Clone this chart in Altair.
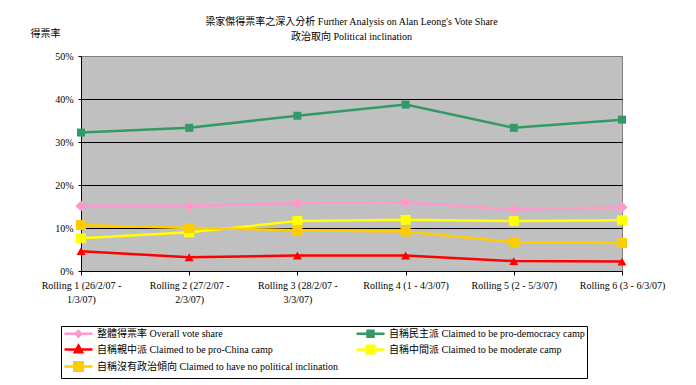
import altair as alt
import pandas as pd

FONT = "'Liberation Serif', 'Noto Sans CJK TC', serif"

rolls = [
    "Rolling 1 (26/2/07 - 1/3/07)",
    "Rolling 2 (27/2/07 - 2/3/07)",
    "Rolling 3 (28/2/07 - 3/3/07)",
    "Rolling 4 (1 - 4/3/07)",
    "Rolling 5 (2 - 5/3/07)",
    "Rolling 6 (3 - 6/3/07)",
]

series = [
    "整體得票率 Overall vote share",
    "自稱民主派 Claimed to be pro-democracy camp",
    "自稱親中派 Claimed to be pro-China camp",
    "自稱中間派 Claimed to be moderate camp",
    "自稱沒有政治傾向 Claimed to have no political inclination",
]

overall = [15.1, 15.1, 15.8, 16.0, 14.3, 14.8]
pro_democracy = [32.2, 33.3, 36.1, 38.7, 33.3, 35.2]
pro_china = [4.6, 3.2, 3.6, 3.6, 2.3, 2.2]
moderate = [7.6, 9.0, 11.6, 11.9, 11.6, 11.8]
no_inclination = [10.7, 10.0, 9.5, 9.2, 6.7, 6.5]

values = [overall, pro_democracy, pro_china, moderate, no_inclination]

colors = ["#FF99CC", "#339966", "#FF0000", "#FFFF00", "#FFCC00"]
shapes = ["diamond", "square", "triangle-up", "square", "square"]
sizes = [121, 64, 81, 100, 100]

# legend symbols: a short line with the marker in the middle
legend_paths = [
    "M-3.5,0H3.5M0,-0.7L0.7,0L0,0.7L-0.7,0Z",
    "M-3.5,0H3.5M-0.75,-0.75H0.75V0.75H-0.75Z",
    "M-3.5,0H3.5M0,-0.95L0.9,0.7L-0.9,0.7Z",
    "M-3.5,0H3.5M-0.95,-0.95H0.95V0.95H-0.95Z",
    "M-3.5,0H3.5M-1.05,-1.05H1.05V1.05H-1.05Z",
]

rows = []
for name, vals in zip(series, values):
    for r, v in zip(rolls, vals):
        rows.append({"series": name, "roll": r, "value": v})
df = pd.DataFrame(rows)

legend = alt.Legend(
    title=None,
    orient="none",
    legendX=-20,
    legendY=270,
    direction="horizontal",
    columns=2,
    columnPadding=12,
    rowPadding=-2,
    padding=2,
    strokeColor="black",
    fillColor="white",
    symbolSize=64,
    symbolOffset=10,
    labelOffset=13,
    labelFont=FONT,
    labelFontSize=10,
    labelColor="black",
    labelLimit=600,
    symbolStrokeWidth=2.5,
)

color = alt.Color("series:N", scale=alt.Scale(domain=series, range=colors), sort=series, legend=legend)

x = alt.X(
    "roll:N",
    sort=rolls,
    scale=alt.Scale(type="point", padding=0),
    axis=alt.Axis(
        title=None,
        labelAngle=0,
        labelFont=FONT,
        labelFontSize=10,
        labelColor="black",
        labelLineHeight=14,
        labelPadding=5,
        labelOverlap=False,
        labelExpr="length(datum.label) > 24 ? [substring(datum.label, 0, indexof(datum.label, ' - ') + 2), substring(datum.label, indexof(datum.label, ' - ') + 3)] : datum.label",
        tickSize=4,
        tickColor="black",
        domainColor="black",
        grid=False,
    ),
)

y = alt.Y(
    "value:Q",
    scale=alt.Scale(domain=[0, 50], nice=False),
    axis=alt.Axis(
        title="得票率",
        titleAngle=0,
        titleAlign="left",
        titleBaseline="middle",
        titleX=-51,
        titleY=-23,
        titleFont=FONT,
        titleFontSize=10,
        titleFontWeight="normal",
        titleColor="black",
        values=[0, 10, 20, 30, 40, 50],
        labelExpr="datum.value + '%'",
        labelFont=FONT,
        labelFontSize=10,
        labelColor="black",
        labelPadding=5,
        tickSize=3,
        tickColor="black",
        domainColor="black",
        grid=True,
        gridColor={"condition": {"test": "datum.value >= 50 || datum.value <= 0", "value": "#808080"}, "value": "black"},
        gridWidth=1,
    ),
)

base = alt.Chart(df)

lines = base.mark_line(strokeWidth=2.5).encode(
    x=x, y=y, color=color, detail="series:N",
)

point_layers = []
for name, shp, sz in zip(series, shapes, sizes):
    point_layers.append(
        base.transform_filter(alt.datum.series == name)
        .mark_point(filled=True, opacity=1, strokeWidth=0, shape=shp, size=sz)
        .encode(x=x, y=y, color=color)
    )

# empty layer that only supplies the legend symbol shapes (line + marker)
legend_layer = base.transform_filter("false").mark_point(filled=True, opacity=1).encode(
    x=x, y=y,
    color=color,
    shape=alt.Shape("series:N", scale=alt.Scale(domain=series, range=legend_paths), sort=series, legend=legend),
)

chart = alt.layer(lines, *point_layers, legend_layer).properties(
    width=541,
    height=215,
    autosize="none",
    padding={"left": 73, "top": 48, "right": 66, "bottom": 111},
    title=alt.Title(
        text=[
            "梁家傑得票率之深入分析 Further Analysis on Alan Leong's Vote Share",
            "政治取向 Political inclination",
        ],
        font=FONT,
        fontSize=10,
        fontWeight="normal",
        color="black",
        anchor="middle",
        frame="group",
        lineHeight=15,
        offset=14,
        dy=28,
    ),
).configure_view(
    fill="#C0C0C0", stroke="#808080", strokeWidth=1
)

chart.save("out.html", embed_options={"renderer": "svg", "actions": False})
